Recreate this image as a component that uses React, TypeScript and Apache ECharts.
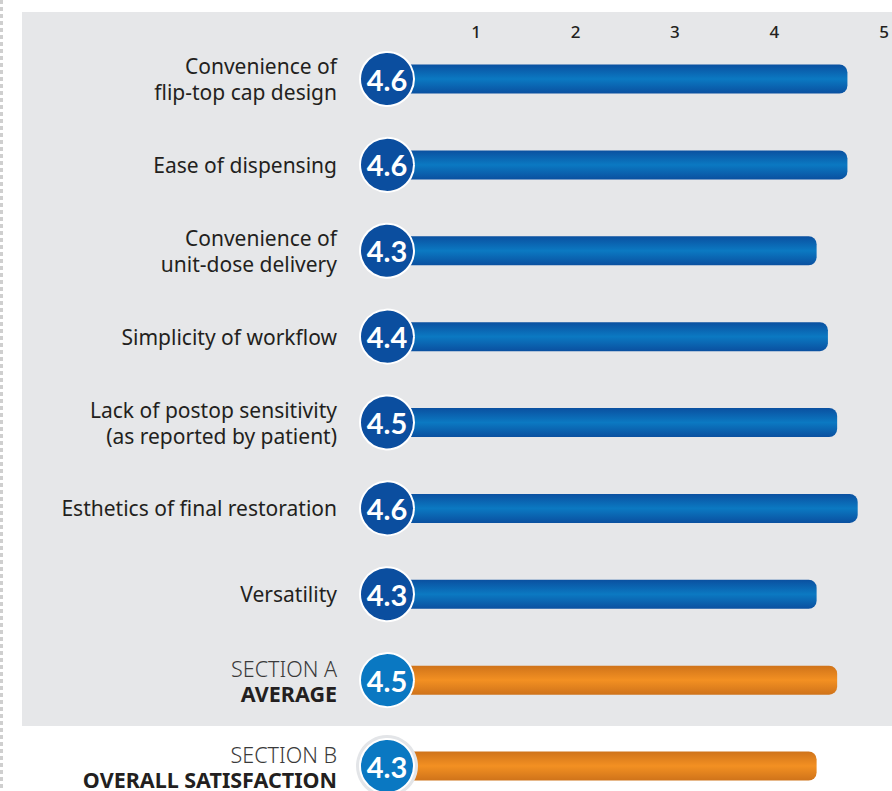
import React, { useEffect, useRef } from "react";
import * as echarts from "echarts";

const categories = [
  "Convenience of\nflip-top cap design",
  "Ease of dispensing",
  "Convenience of\nunit-dose delivery",
  "Simplicity of workflow",
  "Lack of postop sensitivity\n(as reported by patient)",
  "Esthetics of final restoration",
  "Versatility",
  "SECTION A\nAVERAGE",
  "SECTION B\nOVERALL SATISFACTION",
];
const scores = [4.6, 4.6, 4.3, 4.4, 4.5, 4.6, 4.3, 4.5, 4.3];
const barLengths = [4.6, 4.6, 4.3, 4.41, 4.5, 4.7, 4.3, 4.5, 4.3];
const sectionRows = [7, 8];
const tickValues = [1, 2, 3, 4, 5];

const FONT = "'Noto Sans', 'Open Sans', sans-serif";

export default function App() {
  const ref = useRef<HTMLDivElement>(null);
  useEffect(() => {
    document.body.style.margin = "0";
    if (!ref.current) return;
    const chart = echarts.init(ref.current, undefined, { renderer: "svg" });
    const blueGrad = new echarts.graphic.LinearGradient(0, 0, 0, 1, [
      { offset: 0, color: "#0a50a0" },
      { offset: 0.5, color: "#0b79c2" },
      { offset: 1, color: "#0a50a0" },
    ]);
    const orangeGrad = new echarts.graphic.LinearGradient(0, 0, 0, 1, [
      { offset: 0, color: "#cf731a" },
      { offset: 0.5, color: "#f39022" },
      { offset: 1, color: "#cf731a" },
    ]);
    const isSection = (i: number) => sectionRows.indexOf(i) >= 0;
    chart.setOption({
      animation: false,
      backgroundColor: "#ffffff",
      graphic: [
        {
          type: "rect",
          z: -10,
          silent: true,
          shape: { x: 22, y: 12, width: 870, height: 714 },
          style: { fill: "#e6e7e9" },
        },
        {
          type: "line",
          z: -10,
          silent: true,
          shape: { x1: 1.5, y1: 0, x2: 1.5, y2: 791 },
          style: { stroke: "#cfcfcf", lineWidth: 3, lineDash: [4, 3] },
        },
      ],
      grid: [
        { left: 375, width: 513.5, top: 79, bottom: 25, containLabel: false },
        { left: 376.8, width: 498.4, top: 44, height: 1, containLabel: false },
      ],
      xAxis: [
        {
          type: "value",
          gridIndex: 0,
          min: 0,
          max: 5,
          show: false,
        },
        {
          type: "value",
          gridIndex: 1,
          position: "top",
          min: 0,
          max: 5,
          interval: 1,
          axisLine: { show: false },
          axisTick: { show: false },
          splitLine: { show: false },
          axisLabel: {
            margin: 4,
            fontFamily: FONT,
            fontSize: 17,
            fontWeight: 500,
            color: "#231f20",
            formatter: (v: number) =>
              tickValues.indexOf(v) < 0 ? "" : v === 5 ? "{p|5}" : String(v),
            rich: {
              p: {
                fontFamily: FONT,
                fontSize: 17,
                fontWeight: 500,
                color: "#231f20",
                padding: [0, 0, 0, 21],
              },
            },
          },
        },
      ],
      yAxis: [
        {
          type: "category",
          gridIndex: 0,
          data: categories,
          inverse: true,
          boundaryGap: false,
          axisLine: { show: false },
          axisTick: { show: false },
          splitLine: { show: false },
          axisLabel: {
            margin: 38,
            align: "right",
            interval: 0,
            formatter: (v: string) => {
              const idx = categories.indexOf(v);
              const lines = v.split("\n");
              if (isSection(idx)) {
                return `{light|${lines[0]}}\n{bold|${lines[1]}}`;
              }
              return lines.map((l) => `{n|${l}}`).join("\n");
            },
            rich: {
              n: {
                fontFamily: FONT,
                fontSize: 21,
                lineHeight: 26,
                color: "#231f20",
                align: "right",
              },
              light: {
                fontFamily: FONT,
                fontSize: 21.5,
                lineHeight: 26,
                fontWeight: 300,
                color: "#3a3a3a",
                align: "right",
              },
              bold: {
                fontFamily: FONT,
                fontSize: 21.5,
                lineHeight: 24,
                fontWeight: "bold",
                color: "#231f20",
                align: "right",
              },
            },
          },
        },
        {
          type: "value",
          gridIndex: 1,
          show: false,
          min: 0,
          max: 1,
        },
      ],
      series: [
        {
          type: "bar",
          xAxisIndex: 0,
          yAxisIndex: 0,
          barWidth: 29,
          z: 2,
          data: barLengths.map((v, i) => ({
            value: v,
            itemStyle: {
              color: isSection(i) ? orangeGrad : blueGrad,
              borderRadius: [0, 8, 8, 0],
            },
          })),
        },
        {
          type: "scatter",
          xAxisIndex: 0,
          yAxisIndex: 0,
          z: 3,
          symbol: "circle",
          symbolSize: 62,
          symbolOffset: [12, 0],
          silent: true,
          itemStyle: { color: "#e3e5e8", opacity: 1 },
          data: [[0, 8]],
        },
        {
          type: "scatter",
          xAxisIndex: 0,
          yAxisIndex: 0,
          z: 4,
          symbol: "circle",
          symbolSize: 54,
          symbolOffset: [12, 0],
          itemStyle: { opacity: 1 },
          data: scores.map((s, i) => ({
            value: [0, i],
            itemStyle: {
              color: isSection(i) ? "#0a78c2" : "#0b4e9f",
              borderColor: "#ffffff",
              borderWidth: 2,
              opacity: 1,
            },
          })),
          label: {
            show: true,
            position: "inside",
            formatter: (p: any) => scores[p.dataIndex].toFixed(1),
            fontFamily: "Lato, 'Noto Sans', sans-serif",
            fontWeight: "bold",
            fontSize: 29,
            color: "#ffffff",
          },
        },
      ],
    });
    return () => chart.dispose();
  }, []);
  return <div ref={ref} style={{ width: 892, height: 791 }} />;
}
